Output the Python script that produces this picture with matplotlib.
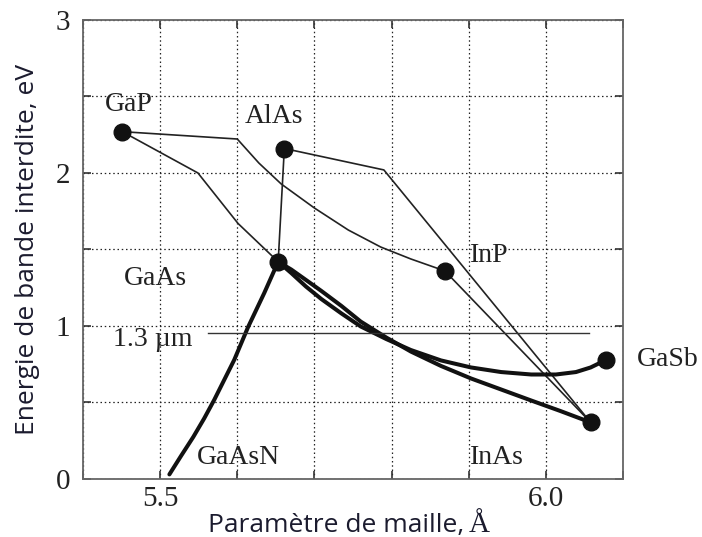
import numpy as np
import matplotlib
matplotlib.use("Agg")
import matplotlib.pyplot as plt
from matplotlib.ticker import FixedLocator

# Binary compounds: lattice constant (Angstrom) and band gap (eV)
compounds = ["GaP", "AlAs", "GaAs", "InP", "GaSb", "InAs"]
lattice = [5.451, 5.661, 5.653, 5.869, 6.078, 6.058]
gap = [2.27, 2.16, 1.42, 1.36, 0.78, 0.37]

# Ternary alloys (thin lines) - kinked at the direct/indirect crossover
gaasp_a = [5.451, 5.549, 5.601, 5.653]
gaasp_e = [2.27, 2.00, 1.67, 1.42]

gainp_a = [5.451, 5.600, 5.628, 5.657, 5.700, 5.744, 5.786, 5.825, 5.869]
gainp_e = [2.27, 2.222, 2.065, 1.928, 1.771, 1.627, 1.516, 1.438, 1.36]

algaas_a = [5.661, 5.653]
algaas_e = [2.16, 1.42]

alinas_a = [5.661, 5.790, 6.058]
alinas_e = [2.16, 2.02, 0.37]

inpas_a = [5.869, 6.058]
inpas_e = [1.36, 0.37]

# Ternary alloys (thick lines)
gainas_a = [5.653, 5.670, 5.689, 5.709, 5.735, 5.760, 5.793, 5.825,
            5.864, 5.903, 5.942, 5.981, 6.019, 6.058]
gainas_e = [1.42, 1.369, 1.301, 1.229, 1.131, 1.029, 0.925, 0.833,
            0.739, 0.657, 0.585, 0.513, 0.444, 0.37]

gaassb_a = [5.653, 5.670, 5.689, 5.709, 5.735, 5.760, 5.793, 5.825, 5.864,
            5.903, 5.942, 5.981, 6.013, 6.039, 6.058, 6.071, 6.078]
gaassb_e = [1.42, 1.346, 1.258, 1.176, 1.082, 0.997, 0.915, 0.843, 0.775,
            0.729, 0.699, 0.683, 0.683, 0.699, 0.729, 0.761, 0.78]

gaasn_a = [5.512, 5.527, 5.543, 5.557, 5.570, 5.583, 5.596, 5.614, 5.635, 5.653]
gaasn_e = [0.03, 0.15, 0.275, 0.395, 0.516, 0.647, 0.778, 0.993, 1.216, 1.42]

# 1.3 um telecom wavelength
wavelength_um = 1.3
telecom_a = [5.562, 6.056]

# label positions (lattice, energy)
label_pos = {
    "GaP": (5.46, 2.45),
    "AlAs": (5.647, 2.37),
    "GaAs": (5.494, 1.31),
    "InP": (5.926, 1.46),
    "GaSb": (6.158, 0.78),
    "InAs": (5.937, 0.14),
    "GaAsN": (5.602, 0.14),
}

serif = "Liberation Serif"
sans = "Open Sans"

fig = plt.figure(figsize=(7.02, 5.37), dpi=100)
ax = fig.add_axes([0.1182, 0.108, 0.7693, 0.8548])

thin = dict(color="#222222", lw=1.2, solid_capstyle="round", solid_joinstyle="round")
thick = dict(color="#111111", lw=2.9, solid_capstyle="round", solid_joinstyle="round")

ax.plot(gaasp_a, gaasp_e, **thin)
ax.plot(gainp_a, gainp_e, **thin)
ax.plot(algaas_a, algaas_e, **thin)
ax.plot(alinas_a, alinas_e, **thin)
ax.plot(inpas_a, inpas_e, **thin)

ax.plot(gainas_a, gainas_e, **thick)
ax.plot(gaassb_a, gaassb_e, **thick)
ax.plot(gaasn_a, gaasn_e, **thick)

e_telecom = 1.2398 / wavelength_um
ax.plot(telecom_a, [e_telecom, e_telecom], color="#333333", lw=1.0)
ax.text(5.491, e_telecom - 0.04, "1.3 µm", family=serif, fontsize=20,
        ha="center", va="center", color="#222222")

ax.plot(lattice, gap, "o", color="#111111", ms=12, zorder=5, clip_on=False)

for name in compounds + ["GaAsN"]:
    x, y = label_pos[name]
    ax.text(x, y, name, family=serif, fontsize=20, ha="center", va="center",
            color="#222222", clip_on=False)

ax.set_xlim(5.4, 6.1)
ax.set_ylim(0, 3)

xt = [5.4, 5.5, 5.6, 5.7, 5.8, 5.9, 6.0, 6.1]
ax.xaxis.set_major_locator(FixedLocator(xt))
ax.set_xticklabels(["", "5.5", "", "", "", "", "6.0", ""])
yt = [0, 0.5, 1, 1.5, 2, 2.5, 3]
ax.yaxis.set_major_locator(FixedLocator(yt))
ax.set_yticklabels(["0", "", "1", "", "2", "", "3"])

ax.tick_params(direction="in", length=6, width=1.2, color="#333333",
               top=True, right=True, labelsize=21)
ax.tick_params(axis="x", pad=5)
ax.tick_params(axis="y", pad=9)
for lab in ax.get_xticklabels() + ax.get_yticklabels():
    lab.set_family(serif)
    lab.set_color("#222222")

ax.grid(True, color="#222222", linestyle=(0, (1.2, 2.2)), linewidth=0.9)
for sp in ax.spines.values():
    sp.set_color("#666666")
    sp.set_linewidth(1.3)

# axis titles: sans text, angstrom sign in serif
label_color = "#1b1b2e"
xlab = fig.text(208 / 702, 5 / 537, "Paramètre de maille,", family=sans,
                fontsize=19, color=label_color, ha="left", va="baseline")
fig.canvas.draw()
bb = xlab.get_window_extent()
fig.text((bb.x1 + 4) / fig.bbox.width, 5 / 537, "Å", family=serif,
         fontsize=21, color=label_color, ha="left", va="baseline")
fig.text(28 / 702, 288 / 537, "Energie de bande interdite, eV", family=sans,
         fontsize=19, color=label_color, rotation=90, ha="center", va="center")

fig.savefig("out.png", dpi=100)
